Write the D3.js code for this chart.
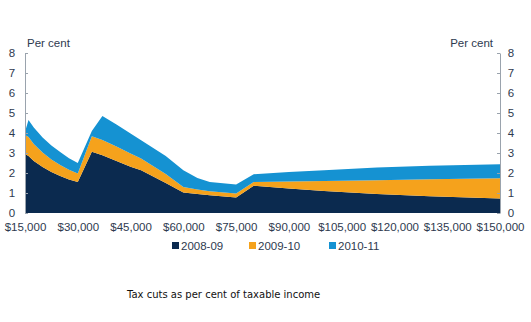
<!DOCTYPE html>
<html>
<head>
<meta charset="utf-8">
<script src="https://cdn.jsdelivr.net/npm/d3@7"></script>
<style>
  body { margin: 0; background: #fff; }
  .tick text { font-family: "Liberation Sans", Arial, sans-serif; font-size: 11.5px; fill: #2e3a4f; }
  .axis path, .axis line { stroke: #9aa3ad; }
</style>
</head>
<body>
<div id="chart"></div>
<script>
// taxable income points (x axis)
var incomes = [15000, 16000, 17500, 20000, 22500, 25000, 27500, 30000, 34000, 37000,
  41000, 45000, 48000, 55000, 60000, 64000, 67500, 75000, 80000, 90000,
  100000, 115000, 130000, 150000];

// tax cut in each year, per cent of taxable income (stacked)
var cut0809 = [2.95, 2.85, 2.60, 2.30, 2.05, 1.85, 1.68, 1.55, 3.06, 2.89,
  2.60, 2.31, 2.14, 1.50, 1.02, 0.95, 0.89, 0.77, 1.36, 1.22,
  1.10, 0.95, 0.84, 0.72];
var cut0910 = [0.95, 0.95, 0.85, 0.72, 0.63, 0.55, 0.48, 0.42, 0.78, 0.76,
  0.72, 0.67, 0.58, 0.45, 0.28, 0.23, 0.20, 0.20, 0.19, 0.36,
  0.50, 0.69, 0.85, 1.02];
var cut1011 = [0.16, 0.85, 0.82, 0.75, 0.70, 0.65, 0.58, 0.53, 0.26, 1.20,
  1.10, 1.00, 0.92, 0.90, 0.84, 0.57, 0.46, 0.45, 0.39, 0.47,
  0.54, 0.64, 0.67, 0.70];

var seriesNames = ["2008-09", "2009-10", "2010-11"];
var seriesColors = ["#0b2a4f", "#f5a21c", "#1592d2"];
var xTicks = [15000, 30000, 45000, 60000, 75000, 90000, 105000, 120000, 135000, 150000];
var yTicks = [0, 1, 2, 3, 4, 5, 6, 7, 8];

var width = 531, height = 322;
var plotLeft = 25, plotRight = 500, plotTop = 53, plotBottom = 213;

var rows = incomes.map(function (inc, i) {
  return { income: inc, "2008-09": cut0809[i], "2009-10": cut0910[i], "2010-11": cut1011[i] };
});

var svg = d3.select("#chart").append("svg")
  .attr("width", width)
  .attr("height", height);

var x = d3.scaleLinear().domain([15000, 150000]).range([plotLeft, plotRight]);
var y = d3.scaleLinear().domain([0, 8]).range([plotBottom, plotTop]);

var stacked = d3.stack().keys(seriesNames)(rows);

var area = d3.area()
  .x(function (d) { return x(d.data.income); })
  .y0(function (d) { return y(d[0]); })
  .y1(function (d) { return y(d[1]); });

svg.selectAll(".layer")
  .data(stacked)
  .enter()
  .append("path")
  .attr("class", "layer")
  .attr("d", area)
  .style("fill", function (d, i) { return seriesColors[i]; });

// left and right value axes, ticks pointing into the plot
var yLeft = svg.append("g")
  .attr("class", "axis")
  .attr("transform", "translate(" + plotLeft + ",0)")
  .call(d3.axisRight(y).tickValues(yTicks).tickSize(3).tickSizeOuter(0));
yLeft.selectAll("text").attr("x", -13).style("text-anchor", "middle");

var yRight = svg.append("g")
  .attr("class", "axis")
  .attr("transform", "translate(" + plotRight + ",0)")
  .call(d3.axisLeft(y).tickValues(yTicks).tickSize(3).tickSizeOuter(0));
yRight.selectAll("text").attr("x", 11).style("text-anchor", "middle");

// income axis, labels only
var xAxis = svg.append("g")
  .attr("class", "axis")
  .attr("transform", "translate(0," + plotBottom + ")")
  .call(d3.axisBottom(x).tickValues(xTicks).tickSize(0)
    .tickFormat(function (d) { return "$" + d3.format(",")(d); }));
xAxis.select(".domain").remove();
xAxis.selectAll("text").attr("y", 10);

svg.append("text")
  .attr("x", 27).attr("y", 47)
  .style("font-family", "Liberation Sans, Arial, sans-serif")
  .style("font-size", "11.5px").style("fill", "#2e3a4f")
  .text("Per cent");

svg.append("text")
  .attr("x", 493).attr("y", 47)
  .style("text-anchor", "end")
  .style("font-family", "Liberation Sans, Arial, sans-serif")
  .style("font-size", "11.5px").style("fill", "#2e3a4f")
  .text("Per cent");

// legend
var legendX = [172, 249, 329];
var legend = svg.selectAll(".legend")
  .data(seriesNames)
  .enter()
  .append("g")
  .attr("class", "legend")
  .attr("transform", function (d, i) { return "translate(" + legendX[i] + ",242)"; });

legend.append("rect")
  .attr("width", 7).attr("height", 7)
  .style("fill", function (d, i) { return seriesColors[i]; });

legend.append("text")
  .attr("x", 9).attr("y", 7.5)
  .style("font-family", "Liberation Sans, Arial, sans-serif")
  .style("font-size", "11.5px").style("fill", "#2e3a4f")
  .text(function (d) { return d; });

svg.append("text")
  .attr("x", 127).attr("y", 298)
  .style("font-family", "DejaVu Sans, Verdana, sans-serif")
  .style("font-size", "10px").style("fill", "#111")
  .text("Tax cuts as per cent of taxable income");
</script>
</body>
</html>
